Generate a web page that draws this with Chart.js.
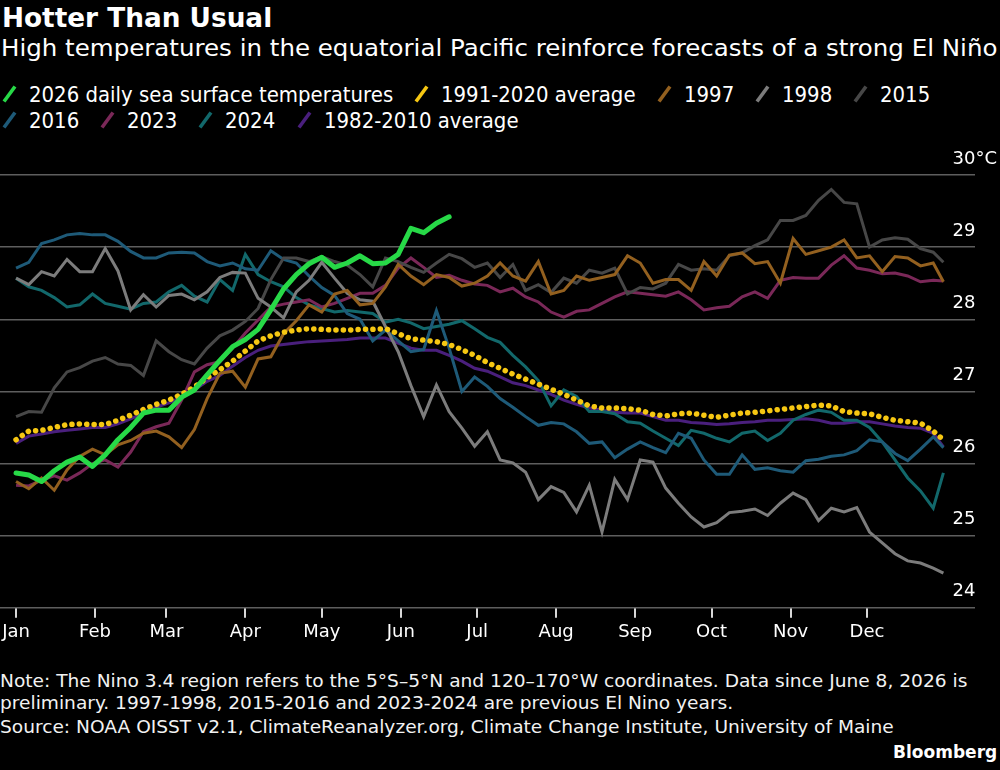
<!DOCTYPE html>
<html lang="en">
<head>
<meta charset="utf-8">
<title>Hotter Than Usual</title>
<script src="https://cdn.jsdelivr.net/npm/chart.js@4.4.0/dist/chart.umd.min.js"></script>
<style>
  html, body { margin: 0; padding: 0; background: #000; }
  body { position: relative; width: 1000px; height: 770px; overflow: hidden;
         font-family: "DejaVu Sans", sans-serif; color: #fff; }
  .txt { position: absolute; white-space: nowrap; transform-origin: 0 0; }
  #title { left: 2px; top: 2px; font-size: 27px; line-height: 31px; font-weight: bold; }
  #subtitle { left: 1px; top: 35px; font-size: 23px; line-height: 27px; }
  .legend-label { font-size: 22px; line-height: 26px; }
  .legend-icon { position: absolute; }
  .note { left: 0; font-size: 18px; line-height: 21px; color: #f2f2f2; }
  #brand { font-size: 18px; line-height: 21px; font-weight: bold; }
  #chartBox { position: absolute; left: 0; top: 140px; width: 1020px; height: 520px; }
</style>
</head>
<body>
<div id="title" class="txt">Hotter Than Usual</div>
<div id="subtitle" class="txt">High temperatures in the equatorial Pacific reinforce forecasts of a strong El Niño</div>
<div id="legend"></div>
<div id="chartBox"><canvas id="myChart" width="1020" height="520"></canvas></div>
<div id="note1" class="txt note" style="top:670px">Note: The Nino 3.4 region refers to the 5°S–5°N and 120–170°W coordinates. Data since June 8, 2026 is</div>
<div id="note2" class="txt note" style="top:692px">preliminary. 1997-1998, 2015-2016 and 2023-2024 are previous El Nino years.</div>
<div id="source" class="txt note" style="top:716px">Source: NOAA OISST v2.1, ClimateReanalyzer.org, Climate Change Institute, University of Maine</div>
<div id="brand" class="txt" style="top:741px">Bloomberg</div>

<script>
// Day of year for every sample (every 5 days, last one is Dec 31)
const days = [0, 5, 10, 15, 20, 25, 30, 35, 40, 45, 50, 55, 60, 65, 70, 75, 80, 85, 90, 95,
  100, 105, 110, 115, 120, 125, 130, 135, 140, 145, 150, 155, 160, 165, 170, 175, 180, 185, 190, 195,
  200, 205, 210, 215, 220, 225, 230, 235, 240, 245, 250, 255, 260, 265, 270, 275, 280, 285, 290, 295,
  300, 305, 310, 315, 320, 325, 330, 335, 340, 345, 350, 355, 360, 364];

// Month ticks
const monthStarts = [0, 31, 59, 90, 120, 151, 181, 212, 243, 273, 304, 334];
const monthLabels = ["Jan", "Feb", "Mar", "Apr", "May", "Jun", "Jul", "Aug", "Sep", "Oct", "Nov", "Dec"];

// Y ticks
const yTicks = [24, 25, 26, 27, 28, 29, 30];

// Sea surface temperatures, °C
const sst2026 = [25.87, 25.84, 25.75, 25.9, 26.02, 26.09, 25.96, 26.12, 26.33, 26.5,
  26.7, 26.74, 26.74, 26.92, 27.02, 27.23, 27.43, 27.62, 27.72, 27.86,
  28.13, 28.42, 28.62, 28.77, 28.86, 28.72, 28.78, 28.88, 28.77, 28.78,
  28.9, 29.26, 29.2, 29.33, 29.42];

const avg1991_2020 = [26.33, 26.45, 26.46, 26.5, 26.54, 26.55, 26.54, 26.54, 26.6, 26.67,
  26.75, 26.82, 26.88, 26.96, 27.06, 27.19, 27.3, 27.42, 27.56, 27.7,
  27.77, 27.82, 27.85, 27.87, 27.86, 27.85, 27.85, 27.86, 27.86, 27.87,
  27.8, 27.73, 27.71, 27.69, 27.65, 27.58, 27.5, 27.4, 27.32, 27.24,
  27.17, 27.1, 27.03, 26.96, 26.88, 26.8, 26.77, 26.77, 26.76, 26.74,
  26.68, 26.66, 26.69, 26.7, 26.67, 26.64, 26.67, 26.7, 26.71, 26.73,
  26.75, 26.77, 26.79, 26.81, 26.8, 26.72, 26.7, 26.69, 26.64, 26.6,
  26.58, 26.56, 26.45, 26.33];

const y1997 = [25.75, 25.65, 25.8, 25.63, 25.91, 26.1, 26.2, 26.12, 26.26, 26.32,
  26.42, 26.45, 26.37, 26.22, 26.47, 26.9, 27.25, 27.28, 27.06, 27.45,
  27.48, 27.8, 27.98, 28.2, 28.1, 28.35, 28.4, 28.2, 28.22, 28.45,
  28.76, 28.6, 28.48, 28.62, 28.58, 28.46, 28.5, 28.6, 28.78, 28.6,
  28.53, 28.8, 28.35, 28.4, 28.6, 28.54, 28.58, 28.62, 28.88, 28.78,
  28.5, 28.55, 28.55, 28.4, 28.8, 28.6, 28.89, 28.92, 28.77, 28.8,
  28.5, 29.12, 28.9, 28.95, 29.0, 29.1, 28.85, 28.88, 28.66, 28.87,
  28.85, 28.74, 28.78, 28.52];

const y1998 = [28.57, 28.48, 28.66, 28.6, 28.83, 28.66, 28.66, 28.98, 28.67, 28.13,
  28.34, 28.17, 28.33, 28.35, 28.27, 28.38, 28.58, 28.65, 28.64, 28.29,
  28.17, 28.02, 28.38, 28.54, 28.79, 28.57, 28.36, 28.27, 28.25, 27.9,
  27.55, 27.08, 26.65, 27.09, 26.72, 26.49, 26.24, 26.44, 26.05, 26.01,
  25.88, 25.5, 25.68, 25.6, 25.33, 25.7, 25.05, 25.78, 25.5, 26.05,
  26.02, 25.66, 25.45, 25.26, 25.12, 25.18, 25.32, 25.34, 25.37, 25.28,
  25.45, 25.59, 25.5, 25.21, 25.38, 25.33, 25.39, 25.05, 24.9, 24.75,
  24.65, 24.62, 24.55, 24.48];

const y2015 = [26.65, 26.72, 26.71, 27.05, 27.27, 27.33, 27.42, 27.47, 27.38, 27.36,
  27.22, 27.7, 27.55, 27.44, 27.38, 27.6, 27.77, 27.85, 27.97, 28.15,
  28.55, 28.85, 28.85, 28.8, 28.87, 28.8, 28.75, 28.62, 28.45, 28.85,
  28.8, 28.72, 28.65, 28.78, 28.9, 28.84, 28.72, 28.78, 28.58, 28.76,
  28.4, 28.48, 28.37, 28.57, 28.5, 28.68, 28.64, 28.71, 28.35, 28.44,
  28.42, 28.5, 28.76, 28.68, 28.7, 28.68, 28.88, 28.92, 29.02, 29.1,
  29.37, 29.37, 29.44, 29.65, 29.8, 29.62, 29.6, 29.0, 29.1, 29.13,
  29.11, 28.98, 28.93, 28.79];

const y2016 = [28.71, 28.79, 29.05, 29.1, 29.17, 29.19, 29.17, 29.17, 29.08, 28.94,
  28.85, 28.85, 28.92, 28.93, 28.92, 28.8, 28.74, 28.78, 28.7, 28.68,
  28.95, 28.83, 28.78, 28.6, 28.44, 28.33, 28.08, 28.0, 27.7, 27.85,
  27.7, 27.55, 27.58, 28.12, 27.6, 27.0, 27.2, 27.07, 26.9, 26.78,
  26.65, 26.53, 26.57, 26.55, 26.44, 26.28, 26.3, 26.08, 26.2, 26.3,
  26.22, 26.15, 26.42, 26.35, 26.05, 25.85, 25.85, 26.12, 25.92, 25.94,
  25.9, 25.88, 26.04, 26.06, 26.1, 26.12, 26.18, 26.33, 26.3, 26.14,
  26.04, 26.2, 26.37, 26.22];

const y2023 = [25.7, 25.69, 25.77, 25.83, 25.77, 25.87, 26.0, 26.05, 25.95, 26.16,
  26.44, 26.51, 26.56, 26.88, 27.27, 27.37, 27.41, 27.6, 27.81, 27.99,
  28.17, 28.21, 28.24, 28.27, 28.17, 28.22, 28.29, 28.36, 28.36, 28.47,
  28.71, 28.85, 28.72, 28.58, 28.61, 28.54, 28.49, 28.47, 28.38, 28.43,
  28.31, 28.24, 28.1, 28.03, 28.11, 28.13, 28.22, 28.31, 28.38, 28.36,
  28.34, 28.32, 28.38, 28.27, 28.13, 28.16, 28.18, 28.31, 28.38, 28.29,
  28.54, 28.58, 28.57, 28.57, 28.75, 28.88, 28.71, 28.68, 28.63, 28.64,
  28.6, 28.52, 28.54, 28.53];

const y2024 = [28.57, 28.45, 28.4, 28.3, 28.17, 28.2, 28.35, 28.22, 28.18, 28.14,
  28.22, 28.24, 28.38, 28.47, 28.32, 28.24, 28.55, 28.4, 28.9, 28.62,
  28.52, 28.45, 28.3, 28.2, 28.15, 28.1, 28.12, 28.1, 28.08, 27.96,
  28.0, 27.95, 27.87, 27.9, 27.93, 27.98, 27.87, 27.75, 27.68, 27.5,
  27.34, 27.15, 26.8, 27.02, 26.93, 26.72, 26.72, 26.69, 26.58, 26.56,
  26.45, 26.35, 26.25, 26.46, 26.42, 26.35, 26.3, 26.42, 26.45, 26.32,
  26.42, 26.6, 26.68, 26.74, 26.71, 26.6, 26.6, 26.5, 26.3, 26.05,
  25.8, 25.62, 25.38, 25.87];

const avg1982_2010 = [26.28, 26.38, 26.41, 26.44, 26.46, 26.48, 26.5, 26.5, 26.55, 26.62,
  26.7, 26.78, 26.84, 26.92, 27.02, 27.14, 27.22, 27.35, 27.47, 27.57,
  27.63, 27.65, 27.67, 27.69, 27.7, 27.71, 27.72, 27.74, 27.74, 27.74,
  27.67, 27.6, 27.57, 27.57, 27.5, 27.42, 27.32, 27.28, 27.2, 27.12,
  27.08, 27.02, 26.96, 26.88, 26.82, 26.77, 26.74, 26.71, 26.7, 26.7,
  26.65, 26.6, 26.6, 26.57, 26.56, 26.54, 26.55, 26.57, 26.58, 26.6,
  26.6, 26.61, 26.62, 26.6, 26.56, 26.56, 26.58, 26.58, 26.55, 26.52,
  26.5, 26.49, 26.42, 26.23];

const FONT = '"DejaVu Sans", sans-serif';

function series(label, values, color, extra) {
  return Object.assign({
    label: label,
    data: values.map((v, i) => ({ x: days[i], y: v })),
    borderColor: color,
    backgroundColor: color,
    borderWidth: 3,
    pointRadius: 0,
    tension: 0,
    fill: false,
  }, extra || {});
}

// dataset 0 is drawn on top
const datasets = [
  series("2026 daily sea surface temperatures", sst2026, "#27d947", { borderWidth: 5, borderJoinStyle: "round", borderCapStyle: "round" }),
  series("1991-2020 average", avg1991_2020, "#f6c712", { borderWidth: 5.5, borderDash: [0.1, 7.3], borderCapStyle: "round" }),
  series("1997", y1997, "#93601f"),
  series("1998", y1998, "#7c7c7c"),
  series("2015", y2015, "#474747"),
  series("2016", y2016, "#1e5a78"),
  series("2023", y2023, "#7a2858"),
  series("2024", y2024, "#12686b"),
  series("1982-2010 average", avg1982_2010, "#4a1f7d"),
];

// the mirrored y axis reserves 2 * padding on the right; canvas is wider than the page
const Y_PAD = 22;

const ctx = document.getElementById("myChart");
const myChart = new Chart(ctx, {
  type: "line",
  data: { datasets: datasets },
  options: {
    responsive: false,
    animation: false,
    events: [],
    layout: { padding: { left: 0, right: 1, top: 35, bottom: 13 } },
    plugins: { legend: { display: false }, tooltip: { enabled: false } },
    scales: {
      x: {
        type: "linear",
        min: -6.3,
        max: 376.4,
        afterBuildTicks: (scale) => {
          scale.ticks = monthStarts.map((v) => ({ value: v }));
        },
        border: { display: false },
        grid: { drawOnChartArea: false, drawTicks: true, tickLength: 10, color: "#d8d8d8", lineWidth: 2 },
        ticks: {
          autoSkip: false,
          maxRotation: 0,
          minRotation: 0,
          padding: 2,
          color: "#ffffff",
          font: { family: FONT, size: 18, lineHeight: 1.4 },
          callback: (value, index) => monthLabels[index],
        },
      },
      y: {
        position: "right",
        min: 24,
        max: 30,
        afterBuildTicks: (scale) => {
          scale.ticks = yTicks.map((v) => ({ value: v }));
        },
        border: { display: false },
        grid: { color: "#5e5e5e", lineWidth: 1.5, drawTicks: false },
        ticks: {
          mirror: true,
          crossAlign: "far",
          padding: Y_PAD,
          labelOffset: -16,
          color: "#ffffff",
          font: { family: FONT, size: 18 },
          callback: (value) => (value === 30 ? "30°C" : String(value)),
        },
      },
    },
  },
});

// Squeeze text lines horizontally to the widths of the original
function fitWidth(el, target) {
  const scale = target / el.offsetWidth;
  el.style.transform = "scaleX(" + scale + ")";
  return scale;
}

fitWidth(document.getElementById("title"), 270);
fitWidth(document.getElementById("subtitle"), 996);
const noteScale = fitWidth(document.getElementById("note1"), 967);
document.getElementById("note2").style.transform = "scaleX(" + noteScale + ")";
document.getElementById("source").style.transform = "scaleX(" + noteScale + ")";
const brand = document.getElementById("brand");
fitWidth(brand, 104);
brand.style.left = (997 - 104) + "px";

// Legend: two rows, diagonal line icons
function buildLegend() {
  const legend = document.getElementById("legend");
  const rows = [[0, 1, 2, 3, 4], [5, 6, 7, 8]];
  const rowTop = [82, 108];
  const iconTop = [85, 111];
  let labelScale = null;
  rows.forEach((row, r) => {
    let x = 2;
    row.forEach((idx) => {
      const ds = datasets[idx];
      const icon = document.createElementNS("http://www.w3.org/2000/svg", "svg");
      icon.setAttribute("class", "legend-icon");
      icon.setAttribute("width", "15");
      icon.setAttribute("height", "18");
      icon.style.left = x + "px";
      icon.style.top = iconTop[r] + "px";
      const line = document.createElementNS("http://www.w3.org/2000/svg", "line");
      line.setAttribute("x1", "2");
      line.setAttribute("y1", "16.5");
      line.setAttribute("x2", "13");
      line.setAttribute("y2", "1.5");
      line.setAttribute("stroke", ds.borderColor);
      line.setAttribute("stroke-width", "3.6");
      icon.appendChild(line);
      legend.appendChild(icon);

      const label = document.createElement("div");
      label.className = "txt legend-label";
      label.textContent = ds.label;
      label.style.left = (x + 27) + "px";
      label.style.top = rowTop[r] + "px";
      legend.appendChild(label);
      if (labelScale === null) labelScale = 364 / label.offsetWidth;
      label.style.transform = "scaleX(" + labelScale + ")";
      x += 27 + label.offsetWidth * labelScale + 21;
    });
  });
}
buildLegend();
</script>
</body>
</html>
